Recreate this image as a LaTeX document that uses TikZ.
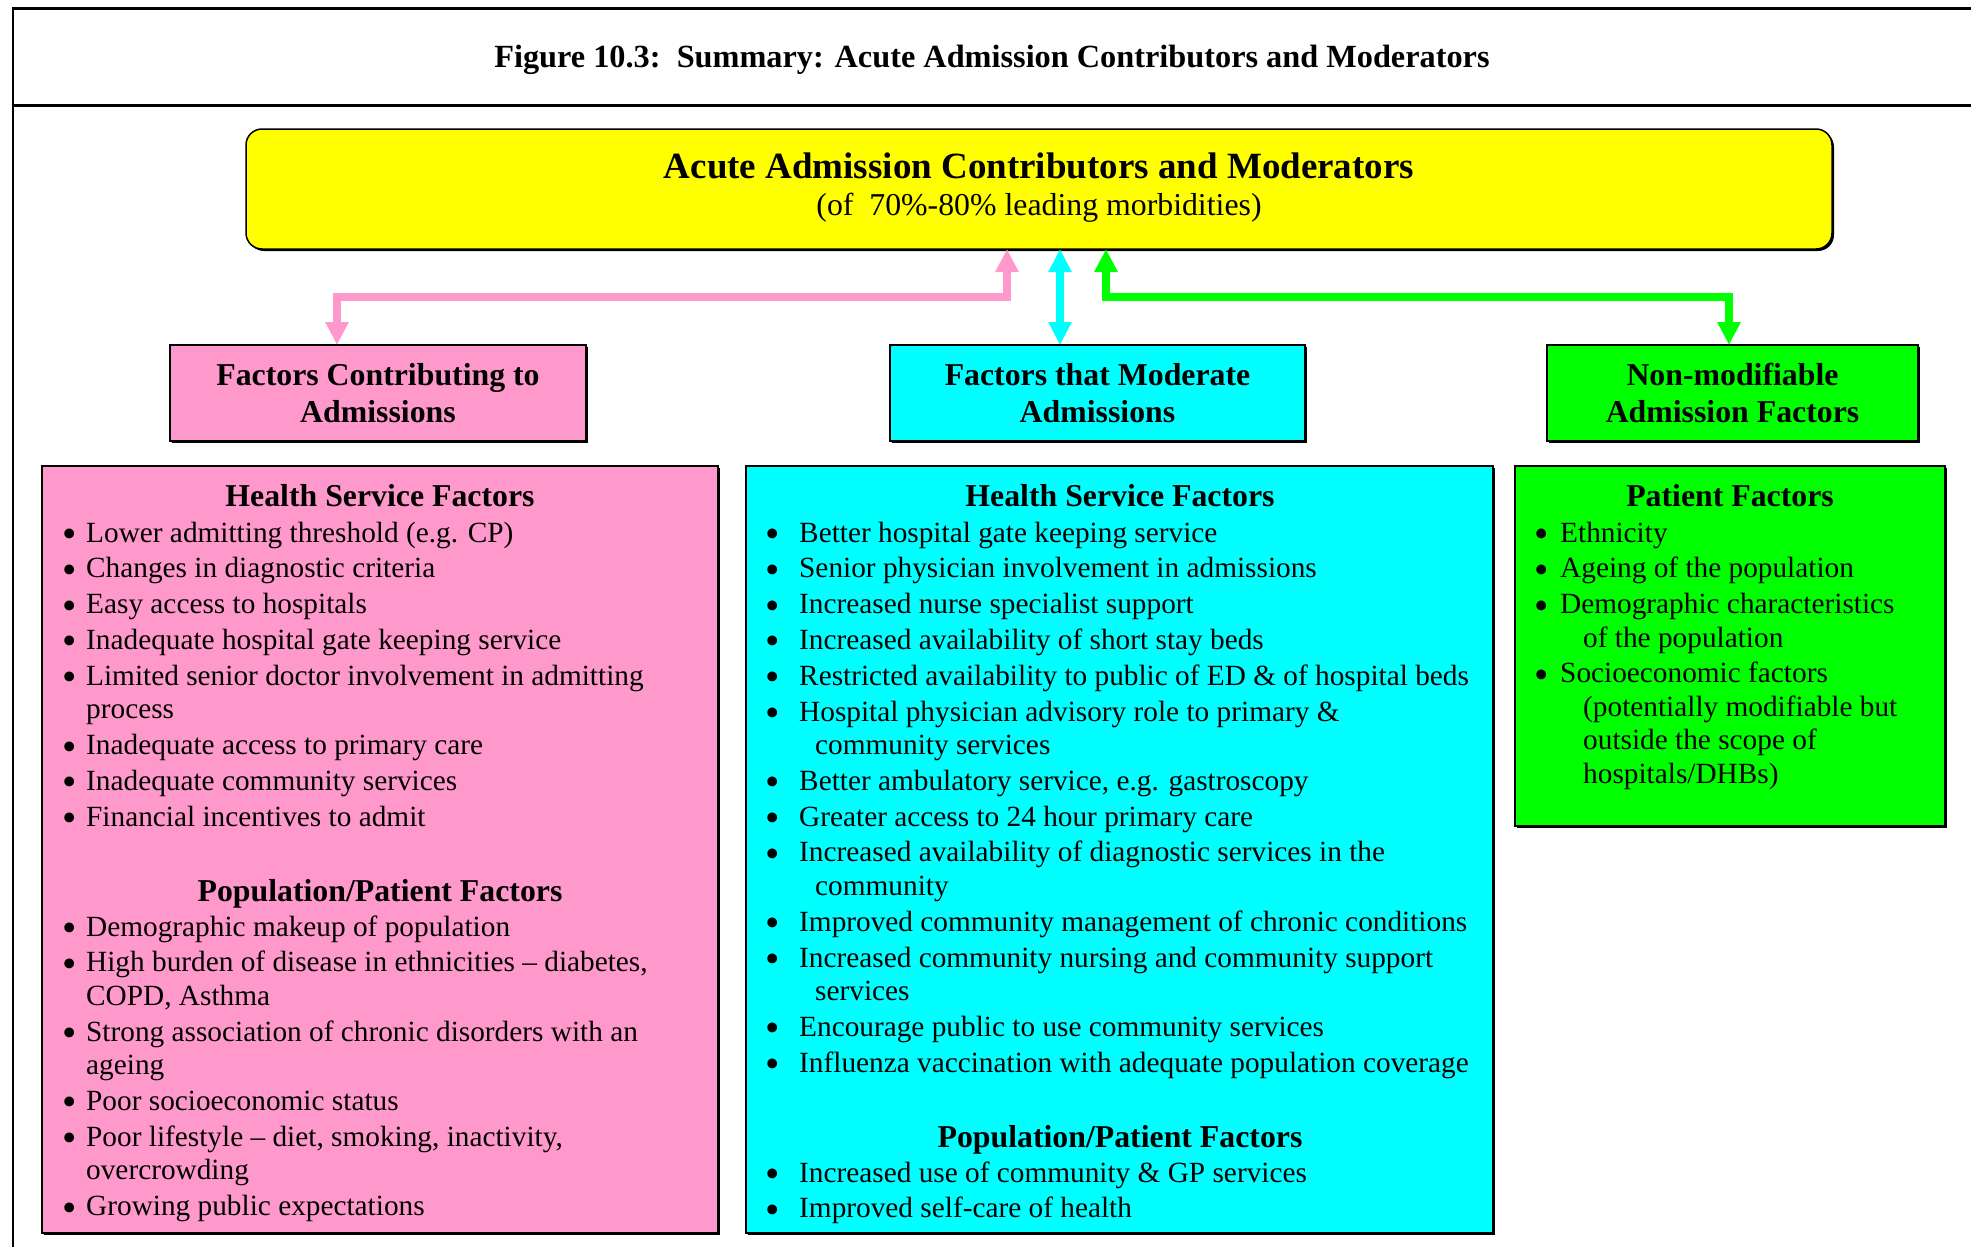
\documentclass[tikz,border=0pt]{standalone}
\usepackage{fontspec}
\setmainfont{Liberation Serif}
\usetikzlibrary{arrows.meta,shadows}
\definecolor{pinkc}{HTML}{FF99CC}
\definecolor{cyanc}{HTML}{00FFFF}
\definecolor{greenc}{HTML}{00FF00}
\definecolor{yellowc}{HTML}{FFFF00}
\newlength\bw
\newlength\cw
\newcommand\Bu{\makebox[\bw][l]{\raisebox{-5.5pt}{\scalebox{1.4}{\textbullet}}}}
\newcommand\Co{\hspace*{\cw}}
\newcommand\itemfont{\fontsize{29.3pt}{33.5pt}\selectfont}
\newcommand\headfont{\fontsize{31.8pt}{36.5pt}\selectfont\bfseries}
\newcommand\subfont{\fontsize{31.8pt}{36.5pt}\selectfont}
\newcommand\bigfont{\fontsize{37pt}{42pt}\selectfont\bfseries}
\newcommand\figfont{\fontsize{32.3pt}{38pt}\selectfont\bfseries}
\begin{document}
\begin{tikzpicture}[x=1pt,y=-1pt,
  box/.style={draw=black, line width=1.5pt, inner sep=0pt, outer sep=0pt, anchor=north west,
    drop shadow={shadow xshift=2pt,shadow yshift=-2pt,opacity=1,fill=black}},
  txt/.style={inner sep=0pt, anchor=base},
  lst/.style={inner sep=0pt, anchor=base west, font=\itemfont},
  conn/.style={line width=8pt, {Triangle[width=22pt,length=23pt]}-{Triangle[width=22pt,length=23pt]}},
]
\useasboundingbox (0,0) rectangle (1971,1247);
\fill[white] (0,0) rectangle (1971,1247);
% frame
\draw[line width=3pt] (12.5,9) -- (1971,9);
\draw[line width=3pt] (12.5,105) -- (1971,105);
\draw[line width=2pt] (12.5,7.5) -- (12.5,1247);
\node[txt, font=\figfont] (fig) at (992,67) {Figure 10.3:\ \ Summary: Acute Admission Contributors and Moderators};

% top box
\node[box, fill=yellowc, rounded corners=16pt, minimum width=1586pt, minimum height=120pt] (yel) at (246,129) {};
\node[txt, font=\bigfont] (yelt) at (1039,178) {Acute Admission Contributors and Moderators};
\node[txt, font=\subfont] (yels) at (1039,215) {(of\ \ 70\%-80\% leading morbidities)};

% header boxes
\node[box, fill=pinkc, minimum width=416pt, minimum height=96pt] (phead) at (170,345) {};
\node[txt, font=\headfont] (pht1) at (378,385) {Factors Contributing to};
\node[txt, font=\headfont] (pht2) at (378,422) {Admissions};
\node[box, fill=cyanc, minimum width=415pt, minimum height=96pt] (chead) at (890,345) {};
\node[txt, font=\headfont] (cht1) at (1097.5,385) {Factors that Moderate};
\node[txt, font=\headfont] (cht2) at (1097.5,422) {Admissions};
\node[box, fill=greenc, minimum width=371pt, minimum height=96pt] (ghead) at (1547,345) {};
\node[txt, font=\headfont] (ght1) at (1732.5,385) {Non-modifiable};
\node[txt, font=\headfont] (ght2) at (1732.5,422) {Admission Factors};

% connectors
\coordinate (xa) at (1007,0);
\coordinate (xb) at (1060,0);
\coordinate (xc) at (1106,0);
\coordinate (xl) at (337,0);
\coordinate (xr) at (1729,0);
\coordinate (ym) at (0,297);
\draw[conn, color=pinkc] (yel.south -| xa) -- (xa |- ym) -| (phead.north -| xl);
\draw[conn, color=cyanc] (yel.south -| xb) -- (chead.north -| xb);
\draw[conn, color=greenc] (yel.south -| xc) -- (xc |- ym) -| (ghead.north -| xr);

% content boxes
\node[box, fill=pinkc, minimum width=676pt, minimum height=767pt] (pbox) at (42,466) {};
\node[box, fill=cyanc, minimum width=747pt, minimum height=767pt] (cbox) at (746,466) {};
\node[box, fill=greenc, minimum width=430pt, minimum height=360pt] (gbox) at (1515,466) {};

% pink content
\node[txt, font=\headfont] (ph1) at (380,506) {Health Service Factors};
\node[lst] (pl1) at (62,542) {\setlength\bw{24pt}\setlength\cw{24pt}%
\begin{tabular}[t]{@{}l@{}}
\Bu Lower admitting threshold (e.g. CP)\\[2.3pt]
\Bu Changes in diagnostic criteria\\[2.3pt]
\Bu Easy access to hospitals\\[2.3pt]
\Bu Inadequate hospital gate keeping service\\[2.3pt]
\Bu Limited senior doctor involvement in admitting\\
\Co process\\[2.3pt]
\Bu Inadequate access to primary care\\[2.3pt]
\Bu Inadequate community services\\[2.3pt]
\Bu Financial incentives to admit
\end{tabular}};
\node[txt, font=\headfont] (ph2) at (380,901) {Population/Patient Factors};
\node[lst] (pl2) at (62,936) {\setlength\bw{24pt}\setlength\cw{24pt}%
\begin{tabular}[t]{@{}l@{}}
\Bu Demographic makeup of population\\[2.3pt]
\Bu High burden of disease in ethnicities – diabetes,\\
\Co COPD, Asthma\\[2.3pt]
\Bu Strong association of chronic disorders with an\\
\Co ageing\\[2.3pt]
\Bu Poor socioeconomic status\\[2.3pt]
\Bu Poor lifestyle – diet, smoking, inactivity,\\
\Co overcrowding\\[2.3pt]
\Bu Growing public expectations
\end{tabular}};

% cyan content
\node[txt, font=\headfont] (ch1) at (1120,506) {Health Service Factors};
\node[lst] (cl1) at (765,542) {\setlength\bw{34pt}\setlength\cw{50pt}%
\begin{tabular}[t]{@{}l@{}}
\Bu Better hospital gate keeping service\\[2.3pt]
\Bu Senior physician involvement in admissions\\[2.3pt]
\Bu Increased nurse specialist support\\[2.3pt]
\Bu Increased availability of short stay beds\\[2.3pt]
\Bu Restricted availability to public of ED \& of hospital beds\\[2.3pt]
\Bu Hospital physician advisory role to primary \&\\
\Co community services\\[2.3pt]
\Bu Better ambulatory service, e.g. gastroscopy\\[2.3pt]
\Bu Greater access to 24 hour primary care\\[2.3pt]
\Bu Increased availability of diagnostic services in the\\
\Co community\\[2.3pt]
\Bu Improved community management of chronic conditions\\[2.3pt]
\Bu Increased community nursing and community support\\
\Co services\\[2.3pt]
\Bu Encourage public to use community services\\[2.3pt]
\Bu Influenza vaccination with adequate population coverage
\end{tabular}};
\node[txt, font=\headfont] (ch2) at (1120,1147) {Population/Patient Factors};
\node[lst] (cl2) at (765,1182) {\setlength\bw{34pt}\setlength\cw{50pt}%
\begin{tabular}[t]{@{}l@{}}
\Bu Increased use of community \& GP services\\[2.3pt]
\Bu Improved self-care of health
\end{tabular}};

% green content
\node[txt, font=\headfont] (gh1) at (1730,506) {Patient Factors};
\node[lst] (gl1) at (1534,542) {\setlength\bw{26pt}\setlength\cw{49pt}%
\begin{tabular}[t]{@{}l@{}}
\Bu Ethnicity\\[2.3pt]
\Bu Ageing of the population\\[2.3pt]
\Bu Demographic characteristics\\
\Co of the population\\[2.3pt]
\Bu Socioeconomic factors\\
\Co (potentially modifiable but\\
\Co outside the scope of\\
\Co hospitals/DHBs)
\end{tabular}};
\end{tikzpicture}
\end{document}
